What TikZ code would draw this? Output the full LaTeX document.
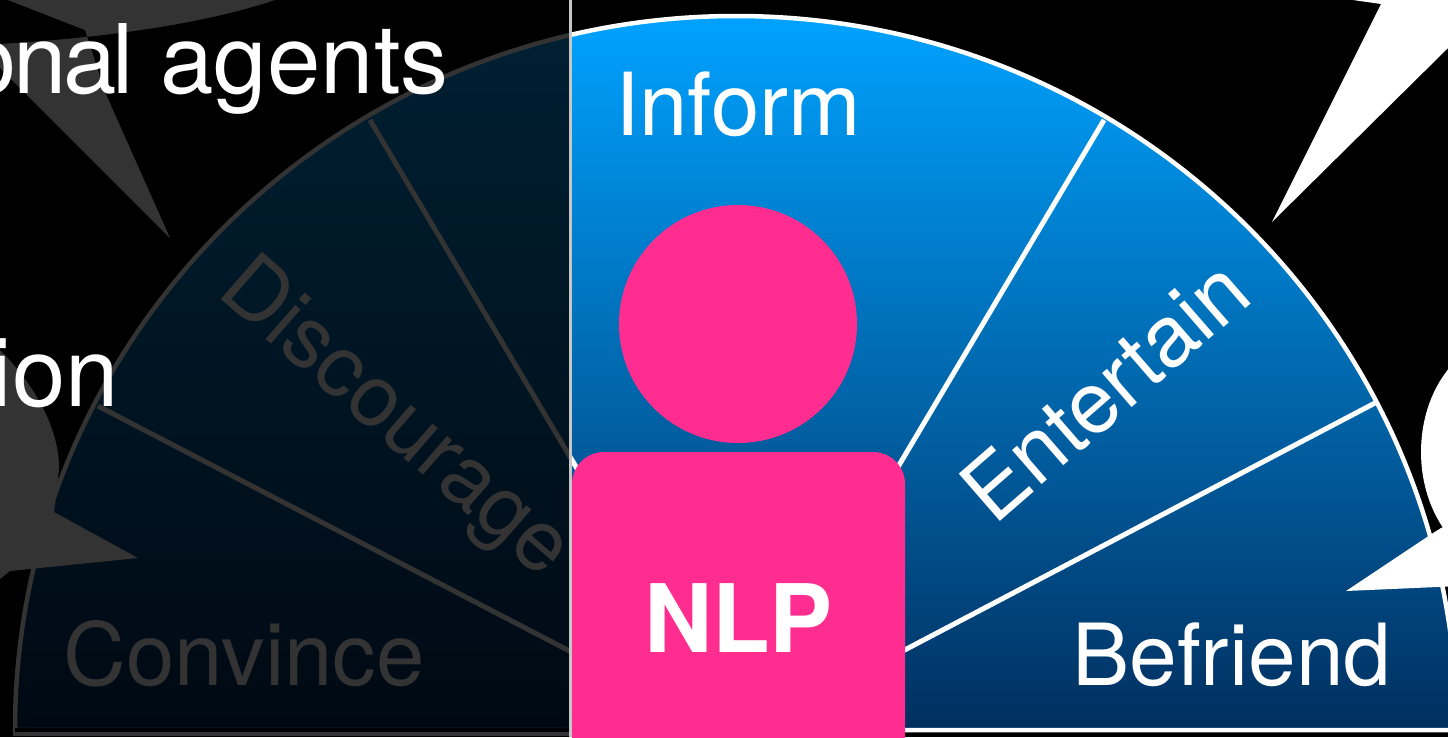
\documentclass[tikz,border=0pt]{standalone}
\usepackage{fontspec}
\setmainfont{TeX Gyre Heros}
\definecolor{nlppink}{HTML}{FF2D8F}
\definecolor{skytop}{HTML}{00A2FF}
\definecolor{skybot}{HTML}{012F5F}
\tikzset{
  label84/.style={text=white,font=\fontsize{87}{87}\selectfont,inner sep=0pt},
  label94/.style={text=white,font=\fontsize{96}{96}\selectfont,inner sep=0pt},
  spoke/.style={draw=white,line width=5pt},
  rim/.style={draw=white,line width=4.5pt}
}
\begin{document}
\begin{tikzpicture}[x=1pt,y=-1pt]
\useasboundingbox (0,0) rectangle (1448,737);
\clip (0,0) rectangle (1448,737);
\fill[black] (0,0) rectangle (1448,737);
% sector
\coordinate (hub) at (737,738);
\coordinate (r1) at (370,120);
\coordinate (r2) at (98,406);
\coordinate (r3) at (1104,120);
\coordinate (r4) at (1375,403);
\shade[top color=skytop,bottom color=skybot]
  (15,730) arc[start angle=180,end angle=360,x radius=721,y radius=714] -- cycle;
\fill[skybot] (15,730) rectangle (570,734);
\begin{scope}
\clip (0,0) rectangle (1448,730);
\draw[spoke] (hub) -- (r1);
\draw[spoke] (hub) -- (r2);
\draw[spoke] (hub) -- (r3);
\draw[spoke] (hub) -- (r4);
\end{scope}
\draw[rim] (15,730) arc[start angle=180,end angle=360,x radius=721,y radius=714] -- cycle;
\draw[rim] (15,730) -- (15,734) -- (570,734);
\fill[black] (15,728) rectangle (570,732);
\fill[skybot!30!black] (18,728) rectangle (570,732);
% labels
\node[label84,anchor=base] (inform) at (738,135) {Inform};
\node[label84,anchor=base,rotate=41,font=\fontsize{86}{86}\selectfont] (entertain) at (1125,413) {Entertain};
\node[label84,anchor=base west,font=\fontsize{85.7}{86}\selectfont] (befriend) at (1072,685) {Befriend};
\node[label84,anchor=base west] (convince) at (63,685) {Convince};
\node[label84,anchor=base,rotate=-41,font=\fontsize{86}{86}\selectfont] (discourage) at (379,437) {Discourage};
% speech bubbles
\fill[white] (-5,-5) -- (275,0) .. controls (200,25) and (100,38) .. (0,44) -- (-5,68) -- (0,68) -- (170,238) -- (105,92) -- (85,30) -- cycle;
\fill[white] (-5,345) -- (0,350) .. controls (35,385) and (60,430) .. (59,470) -- (54,512) -- (138,558) -- (10,571) -- (0,579) -- (-5,579) -- cycle;
\fill[white] (1353,0) -- (1381,4) -- (1272,222) -- (1448,48) -- (1460,0) -- cycle;
\fill[white] (1510,452) ellipse[x radius=89,y radius=115];
\fill[white] (1430,535) -- (1441,528) -- (1460,520) -- (1460,586) -- (1346,591) -- cycle;
% dim overlay
\fill[black,opacity=0.8] (0,0) rectangle (570,737);
\draw[line width=3pt,draw=white!78!black] (570,0) -- (570,737);
% agent
\node[circle,fill=nlppink,minimum size=238pt,inner sep=0pt] (head) at (738,324) {};
\fill[nlppink] (572,745) -- (572,484) arc[start angle=180,end angle=270,radius=32] -- (873,452) arc[start angle=270,end angle=360,radius=32] -- (905,745) -- cycle;
\node[text=white,font=\fontsize{94.5}{95}\selectfont\bfseries,anchor=base,inner sep=0pt] (nlp) at (738.5,652) {NLP};
% front text
\node[label94,anchor=base east] (agents) at (449,93) {o\kern-3pt n\kern-4pt a\kern-4pt l agents};
\node[label94,anchor=base east] (ion) at (119,406) {ion};
\end{tikzpicture}
\end{document}
